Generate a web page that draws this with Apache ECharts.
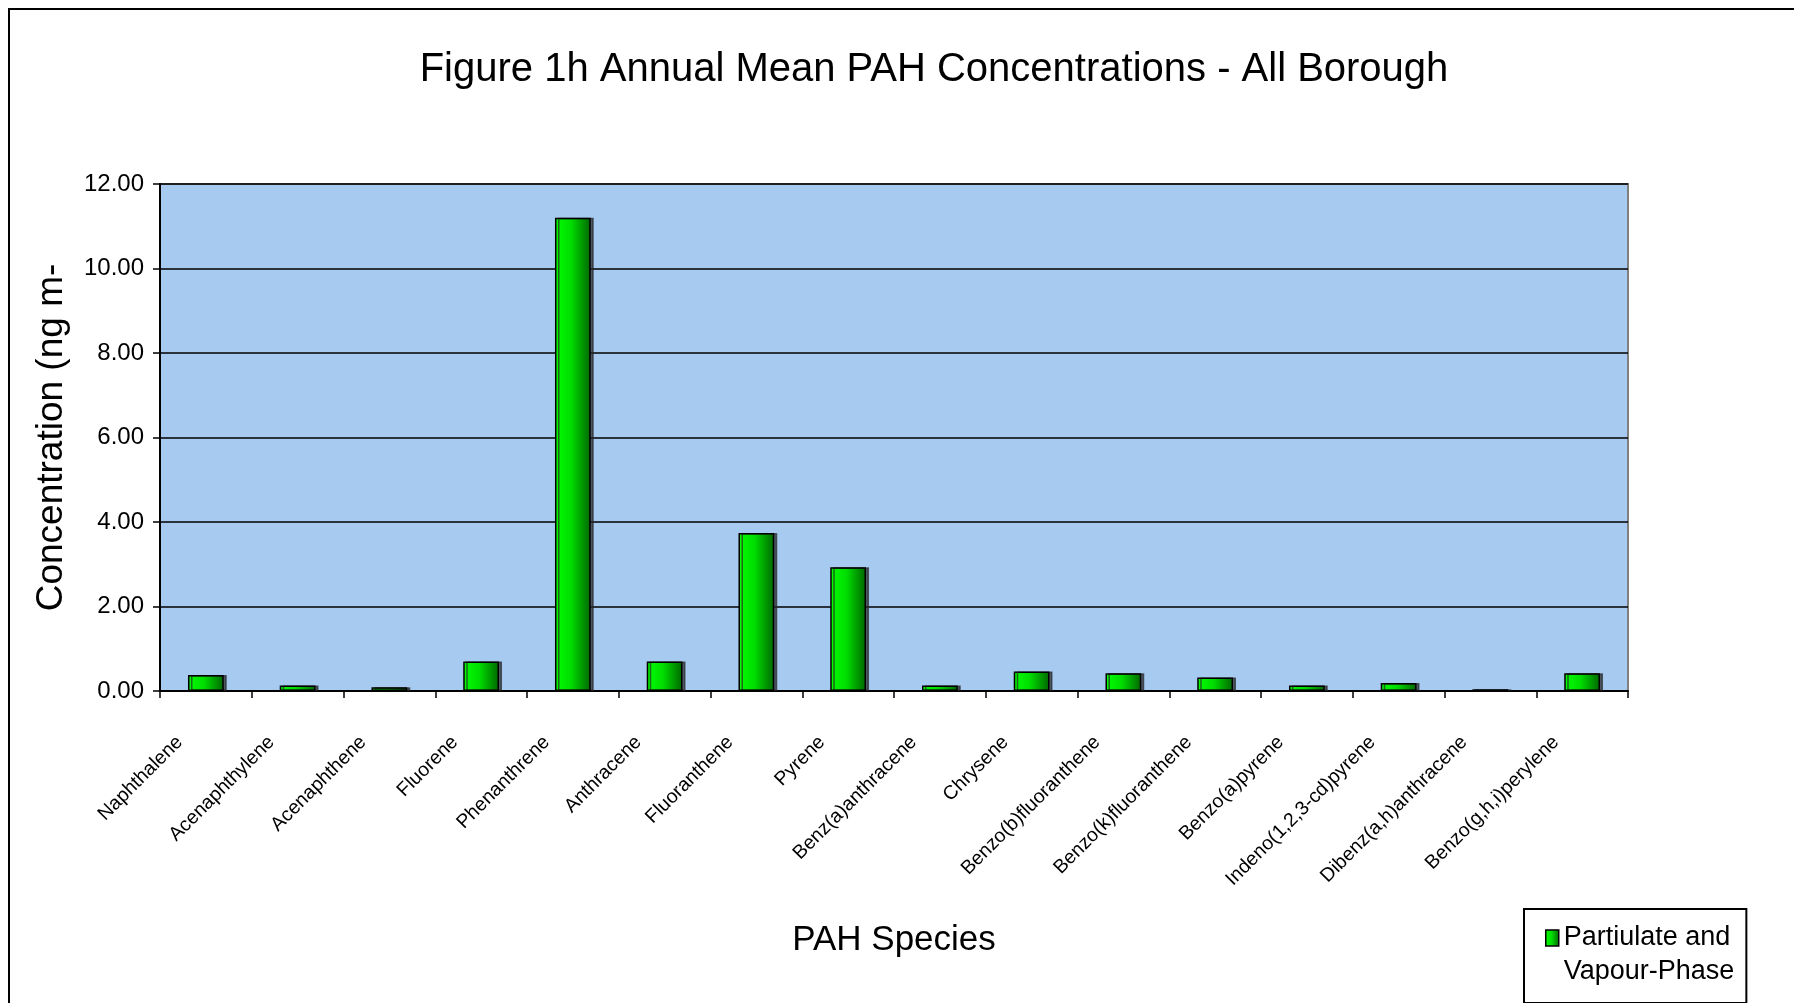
<!DOCTYPE html>
<html>
<head>
<meta charset="utf-8">
<script src="https://cdn.jsdelivr.net/npm/echarts@6/dist/echarts.min.js"></script>
<style>
  html, body { margin: 0; padding: 0; background: #ffffff; }
  #chart { width: 1794px; height: 1003px; }
</style>
</head>
<body>
<div id="chart"></div>
<script>
const categories = [
  'Naphthalene', 'Acenaphthylene', 'Acenaphthene', 'Fluorene', 'Phenanthrene',
  'Anthracene', 'Fluoranthene', 'Pyrene', 'Benz(a)anthracene', 'Chrysene',
  'Benzo(b)fluoranthene', 'Benzo(k)fluoranthene', 'Benzo(a)pyrene',
  'Indeno(1,2,3-cd)pyrene', 'Dibenz(a,h)anthracene', 'Benzo(g,h,i)perylene'
];
const concentrations = [0.38, 0.13, 0.09, 0.70, 11.20, 0.70, 3.74, 2.93, 0.13, 0.46, 0.42, 0.32, 0.13, 0.19, 0.04, 0.42];
const seriesName = 'Partiulate and Vapour-Phase';
const legendLines = ['Partiulate and', 'Vapour-Phase'];
const titleText = 'Figure 1h Annual Mean PAH Concentrations - All Borough';
const yAxisTitle = 'Concentration (ng m-3)';
const xAxisTitle = 'PAH Species';

const FONT = 'Liberation Sans, Arial, sans-serif';
const barGradient = new echarts.graphic.LinearGradient(0, 0, 1, 0, [
  { offset: 0, color: '#00ff00' },
  { offset: 0.45, color: '#00dd00' },
  { offset: 1, color: '#006600' }
]);

const chart = echarts.init(document.getElementById('chart'));
chart.setOption({
  backgroundColor: '#ffffff',
  animation: false,
  title: {
    text: titleText,
    left: 929,
    textAlign: 'center',
    top: 45,
    textStyle: { fontFamily: FONT, fontSize: 40, fontWeight: 'normal', color: '#000' }
  },
  graphic: [{
    type: 'rect',
    shape: { x: 9, y: 9, width: 1800, height: 1010 },
    style: { fill: 'none', stroke: '#000', lineWidth: 2 },
    silent: true,
    z: -1
  }],
  legend: {
    left: 1524,
    top: 909,
    orient: 'vertical',
    padding: [-22, 12, 14, 21],
    borderColor: '#000',
    borderWidth: 2,
    backgroundColor: '#ffffff',
    icon: 'rect',
    itemWidth: 13,
    itemHeight: 16,
    itemGap: 6,
    formatter: function () { return ' \n' + legendLines.join('\n'); },
    textStyle: { fontFamily: FONT, fontSize: 27, color: '#000', lineHeight: 34 },
    itemStyle: { borderColor: '#000', borderWidth: 1.5 }
  },
  grid: {
    left: 160,
    right: 166,
    top: 184,
    bottom: 312,
    show: true,
    backgroundColor: '#a6caf0',
    borderColor: '#808080',
    borderWidth: 2
  },
  xAxis: {
    type: 'category',
    data: categories,
    name: xAxisTitle,
    nameLocation: 'middle',
    nameGap: 232,
    nameTextStyle: { fontFamily: FONT, fontSize: 35, color: '#000' },
    axisLine: { lineStyle: { color: '#000', width: 2 } },
    axisTick: { show: true, alignWithLabel: false, length: 7, lineStyle: { color: '#000', width: 1.5 } },
    axisLabel: {
      rotate: 45,
      interval: 0,
      margin: 22,
      padding: [0, 37, 0, 0],
      fontFamily: FONT,
      fontSize: 19.5,
      color: '#000'
    },
    splitLine: { show: false }
  },
  yAxis: {
    type: 'value',
    min: 0,
    max: 12,
    interval: 2,
    name: yAxisTitle,
    nameLocation: 'middle',
    nameGap: 90,
    nameTruncate: { maxWidth: 352, ellipsis: '' },
    nameTextStyle: { fontFamily: FONT, fontSize: 37, color: '#000' },
    axisLine: { show: true, lineStyle: { color: '#000', width: 2 } },
    axisTick: { show: true, length: 7, lineStyle: { color: '#000', width: 1.5 } },
    axisLabel: {
      margin: 16,
      fontFamily: FONT,
      fontSize: 24,
      color: '#000',
      formatter: function (v) { return v.toFixed(2); }
    },
    splitLine: { show: true, lineStyle: { color: '#000', width: 1.5 } }
  },
  series: [{
    name: seriesName,
    type: 'bar',
    data: concentrations,
    barWidth: '39%',
    itemStyle: {
      color: barGradient,
      borderColor: '#000',
      borderWidth: 1.5,
      shadowColor: 'rgba(40,40,40,0.7)',
      shadowOffsetX: 3,
      shadowOffsetY: 0,
      shadowBlur: 0
    }
  }]
});
</script>
</body>
</html>
